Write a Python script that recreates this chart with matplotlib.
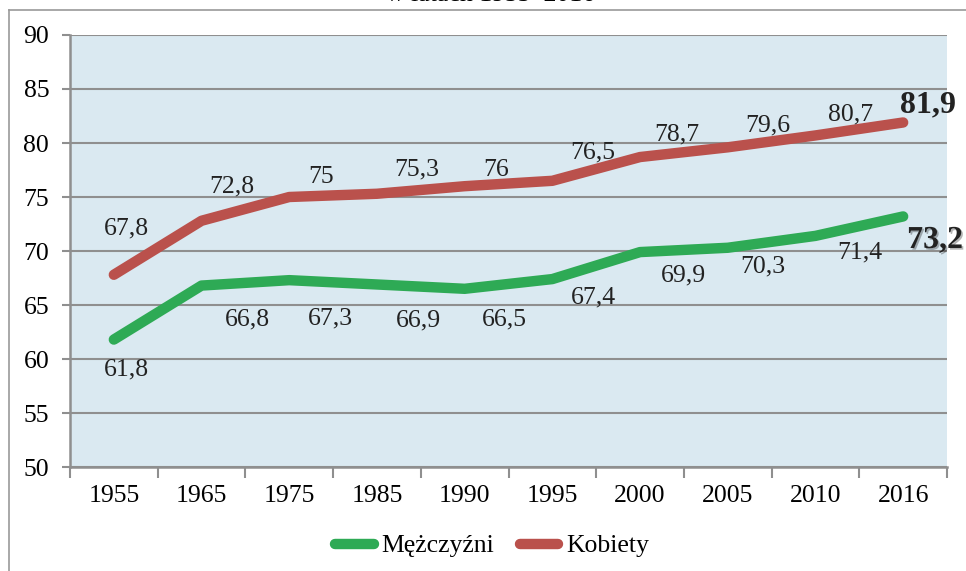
import matplotlib
matplotlib.use('Agg')
import matplotlib.pyplot as plt
import matplotlib.patheffects as pe
from matplotlib.lines import Line2D
import numpy as np

years = ['1955', '1965', '1975', '1985', '1990', '1995', '2000', '2005', '2010', '2016']
men = [61.8, 66.8, 67.3, 66.9, 66.5, 67.4, 69.9, 70.3, 71.4, 73.2]
women = [67.8, 72.8, 75.0, 75.3, 76.0, 76.5, 78.7, 79.6, 80.7, 81.9]
labels_men = ['61,8', '66,8', '67,3', '66,9', '66,5', '67,4', '69,9', '70,3', '71,4', '73,2']
labels_women = ['67,8', '72,8', '75', '75,3', '76', '76,5', '78,7', '79,6', '80,7', '81,9']

# label offsets in pixels (dx, dy) from each point to the middle of the digits
off_women = [(13, 49), (30, 37), (32, 22), (40, 27), (31, 19), (40, 31), (37, 25), (40, 24), (35, 23), (25, 21)]
off_men = [(13, -27), (46, -31), (41, -36), (41, -33), (40, -28), (41, -16), (43, -21), (35, -16), (44, -14), (32, -21)]

green = '#2EAA55'
red = '#BA514C'
grid_c = '#8F8F8F'

plt.rcParams['font.family'] = ['Liberation Serif', 'DejaVu Serif']
fs = 18.5

fig = plt.figure(figsize=(9.66, 5.71), dpi=100)
ax = fig.add_axes([70 / 966, 1 - 467 / 571, 877 / 966, 432 / 571])
ax.set_facecolor('#DAE9F1')

x = np.arange(len(years))
ax.plot(x, men, color=green, lw=7.5, solid_capstyle='round', solid_joinstyle='round', zorder=3)
ax.plot(x, women, color=red, lw=7.5, solid_capstyle='round', solid_joinstyle='round', zorder=3)

for i in range(len(x)):
    big = i == len(x) - 1
    size = 23 if big else fs
    kw = dict(fontsize=size, fontweight='bold' if big else 'normal')
    shift = 0.33 * size * 100 / 72  # from digit middle down to baseline
    ax.annotate(labels_women[i], xy=(x[i], women[i]),
                xytext=(off_women[i][0], off_women[i][1] - shift),
                textcoords='offset pixels', ha='center', va='baseline', color='#222222', zorder=4, **kw)
    t = ax.annotate(labels_men[i], xy=(x[i], men[i]),
                    xytext=(off_men[i][0], off_men[i][1] - shift),
                    textcoords='offset pixels', ha='center', va='baseline', color='#222222', zorder=4, **kw)
    if big:
        t.set_path_effects([pe.SimplePatchShadow(offset=(1.2, -1.2), alpha=0.3), pe.Normal()])

ax.set_xlim(-0.5, len(x) - 0.5)
ax.set_ylim(50, 90)
ax.set_yticks(np.arange(50, 91, 5))
ax.set_xticks(x)
ax.set_xticklabels(years)
ax.set_xticks(np.arange(-0.5, len(x), 1), minor=True)
ax.tick_params(axis='x', which='major', length=0, pad=13, labelsize=fs)
ax.tick_params(axis='x', which='minor', length=8, width=1.5, color=grid_c)
ax.tick_params(axis='y', length=6, width=1.5, color=grid_c, pad=9, labelsize=fs)
ax.yaxis.grid(True, color=grid_c, lw=1.5)
ax.set_axisbelow(True)
for s in ['top', 'right']:
    ax.spines[s].set_visible(False)
for s in ['left', 'bottom']:
    ax.spines[s].set_color(grid_c)
    ax.spines[s].set_linewidth(1.8)

# outer frame
fig.add_artist(Line2D([9 / 966, 9 / 966], [0, 1 - 10 / 571], color='#999999', lw=1.2))
fig.add_artist(Line2D([9 / 966, 1], [1 - 10 / 571, 1 - 10 / 571], color='#999999', lw=1.2))

# title, cut off at the top edge as in the source
fig.text(490 / 966, 1 - 6 / 571, 'w latach 1955–2016', ha='center', va='bottom', fontsize=fs)

handles = [Line2D([], [], color=green, lw=7.5, solid_capstyle='round'),
           Line2D([], [], color=red, lw=7.5, solid_capstyle='round')]
fig.legend(handles, ['Mężczyźni', 'Kobiety'], loc='center', bbox_to_anchor=(492 / 966, 1 - 546 / 571),
           ncol=2, frameon=False, fontsize=fs, handlelength=1.5, handletextpad=0.3, columnspacing=1.0)

fig.savefig('out.png', dpi=100)
